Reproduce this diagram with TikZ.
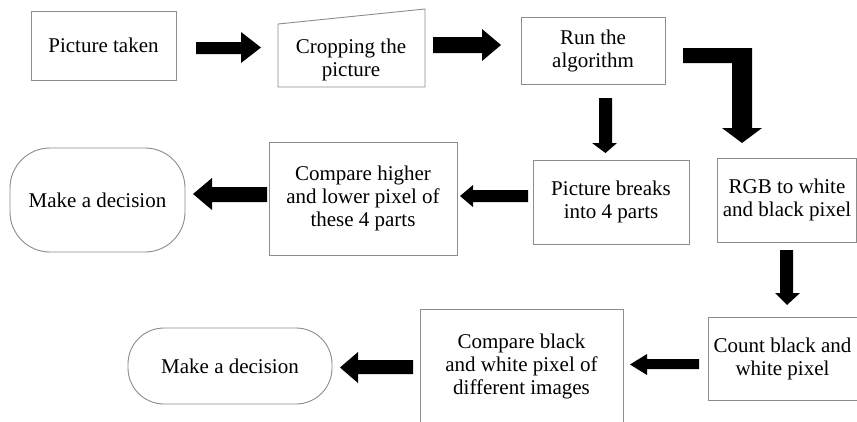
\documentclass[tikz,border=0pt]{standalone}
\usepackage{fontspec}
\setmainfont{Liberation Serif}
\begin{document}
\begin{tikzpicture}[x=1pt,y=-1pt,
  boxline/.style={draw=black!45, line width=0.9pt},
  txt/.style={inner sep=0pt, align=center, font=\fontsize{21}{23}\selectfont},
  box/.style={boxline, txt, rectangle},
  blockarrow/.style={fill=black}]
\useasboundingbox[fill=white] (0,0) rectangle (857,421);

% boxes
\node[box, minimum width=145pt, minimum height=69pt] (pt) at (103.5,45.5) {Picture taken};
\draw[boxline] (278,24) -- (425,9) -- (425,87) -- (278,87) -- cycle;
\node[txt] (crop) at (351,60) {Cropping the\\picture};
\node[box, minimum width=144pt, minimum height=67pt] (run) at (593,50.5) {Run the\\algorithm};
\node[box, minimum width=156pt, minimum height=84pt] (breaks) at (611,202) {Picture breaks\\into 4 parts};
\node[box, minimum width=139pt, minimum height=84pt] (rgb) at (787,200) {RGB to white\\and black pixel};
\node[box, minimum width=188pt, minimum height=113pt] (cmp1) at (363,198.5) {Compare higher\\and lower pixel of\\these 4 parts};
\node[box, rounded corners=40pt, minimum width=175pt, minimum height=104pt] (dec1) at (97.5,200) {Make a decision};
\node[box, minimum width=149pt, minimum height=83pt] (count) at (782.5,358.5) {Count black and\\white pixel};
\node[box, minimum width=203pt, minimum height=114pt] (cmp2) at (521.5,366) {Compare black\\and white pixel of\\different images};
\node[box, rounded corners=36pt, minimum width=204pt, minimum height=76pt] (dec2) at (230,366) {Make a decision};

% block arrows
\fill[blockarrow] (196,42) -- (241,42) -- (241,32) -- (261,47.5) -- (241,63) -- (241,54) -- (196,54) -- cycle;
\fill[blockarrow] (433,37) -- (482,37) -- (482,29) -- (501,45) -- (482,61) -- (482,53) -- (433,53) -- cycle;
\fill[blockarrow] (683,48) -- (752,48) -- (752,128) -- (762,128) -- (742,143) -- (722,128) -- (732,128) -- (732,63) -- (683,63) -- cycle;
\fill[blockarrow] (599,98) -- (612,98) -- (612,143) -- (617,143) -- (605.5,153) -- (592,143) -- (599,143) -- cycle;
\fill[blockarrow] (528,190) -- (473,190) -- (473,185) -- (460,196) -- (473,207) -- (473,202) -- (528,202) -- cycle;
\fill[blockarrow] (267,187) -- (212,187) -- (212,178) -- (193,194) -- (212,210) -- (212,202) -- (267,202) -- cycle;
\fill[blockarrow] (780,250) -- (793,250) -- (793,293) -- (800,293) -- (787,305) -- (775,293) -- (780,293) -- cycle;
\fill[blockarrow] (699,359) -- (647,359) -- (647,354) -- (630,364.5) -- (647,375) -- (647,369) -- (699,369) -- cycle;
\fill[blockarrow] (413,360) -- (358,360) -- (358,352) -- (340,367.5) -- (358,383) -- (358,374) -- (413,374) -- cycle;
\end{tikzpicture}
\end{document}
